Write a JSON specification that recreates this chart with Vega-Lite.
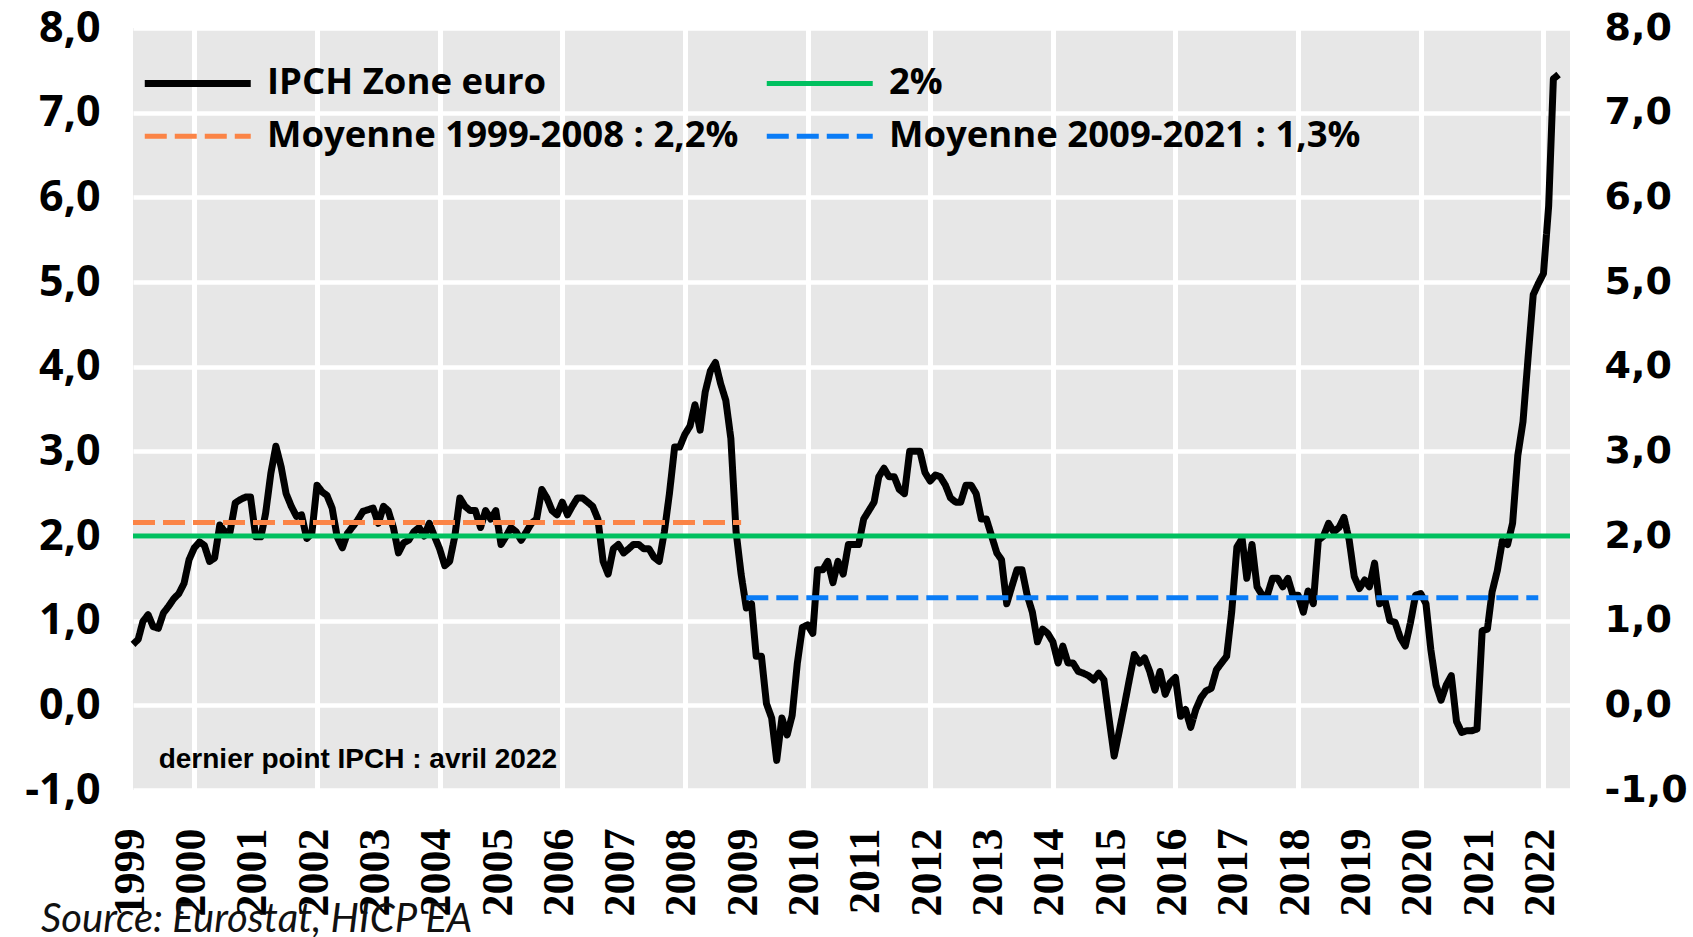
{
  "$schema": "https://vega.github.io/schema/vega-lite/v6.json",
  "width": 1437,
  "height": 762,
  "autosize": {"type": "none"},
  "padding": {"left": 133, "top": 28, "right": 123, "bottom": 147},
  "background": "white",
  "title": {
    "text": "Source: Eurostat, HICP EA",
    "orient": "bottom",
    "anchor": "start",
    "frame": "group",
    "font": "Lato",
    "fontStyle": "italic",
    "fontWeight": "normal",
    "fontSize": 40,
    "color": "#111111",
    "dx": -92,
    "offset": -16
  },
  "config": {
    "view": {"fill": "#e7e7e7", "stroke": null},
    "axis": {"domain": false, "ticks": false, "gridColor": "#ffffff", "labelColor": "#000000", "title": null}
  },
  "datasets": {
    "ipch": [
      {"d":"1999/01/01","v":0.72,"s":"IPCH Zone euro"},{"d":"1999/02/01","v":0.78,"s":"IPCH Zone euro"},{"d":"1999/03/01","v":0.99,"s":"IPCH Zone euro"},{"d":"1999/04/01","v":1.07,"s":"IPCH Zone euro"},{"d":"1999/05/01","v":0.93,"s":"IPCH Zone euro"},{"d":"1999/06/01","v":0.91,"s":"IPCH Zone euro"},{"d":"1999/07/01","v":1.09,"s":"IPCH Zone euro"},{"d":"1999/08/01","v":1.17,"s":"IPCH Zone euro"},{"d":"1999/09/01","v":1.26,"s":"IPCH Zone euro"},{"d":"1999/10/01","v":1.32,"s":"IPCH Zone euro"},{"d":"1999/11/01","v":1.44,"s":"IPCH Zone euro"},{"d":"1999/12/01","v":1.72,"s":"IPCH Zone euro"},
      {"d":"2000/01/01","v":1.86,"s":"IPCH Zone euro"},{"d":"2000/02/01","v":1.93,"s":"IPCH Zone euro"},{"d":"2000/03/01","v":1.89,"s":"IPCH Zone euro"},{"d":"2000/04/01","v":1.70,"s":"IPCH Zone euro"},{"d":"2000/05/01","v":1.74,"s":"IPCH Zone euro"},{"d":"2000/06/01","v":2.13,"s":"IPCH Zone euro"},{"d":"2000/07/01","v":2.05,"s":"IPCH Zone euro"},{"d":"2000/08/01","v":2.05,"s":"IPCH Zone euro"},{"d":"2000/09/01","v":2.39,"s":"IPCH Zone euro"},{"d":"2000/10/01","v":2.43,"s":"IPCH Zone euro"},{"d":"2000/11/01","v":2.46,"s":"IPCH Zone euro"},{"d":"2000/12/01","v":2.46,"s":"IPCH Zone euro"},
      {"d":"2001/01/01","v":1.99,"s":"IPCH Zone euro"},{"d":"2001/02/01","v":1.99,"s":"IPCH Zone euro"},{"d":"2001/03/01","v":2.27,"s":"IPCH Zone euro"},{"d":"2001/04/01","v":2.74,"s":"IPCH Zone euro"},{"d":"2001/05/01","v":3.06,"s":"IPCH Zone euro"},{"d":"2001/06/01","v":2.82,"s":"IPCH Zone euro"},{"d":"2001/07/01","v":2.50,"s":"IPCH Zone euro"},{"d":"2001/08/01","v":2.35,"s":"IPCH Zone euro"},{"d":"2001/09/01","v":2.23,"s":"IPCH Zone euro"},{"d":"2001/10/01","v":2.25,"s":"IPCH Zone euro"},{"d":"2001/11/01","v":1.97,"s":"IPCH Zone euro"},{"d":"2001/12/01","v":2.03,"s":"IPCH Zone euro"},
      {"d":"2002/01/01","v":2.60,"s":"IPCH Zone euro"},{"d":"2002/02/01","v":2.52,"s":"IPCH Zone euro"},{"d":"2002/03/01","v":2.48,"s":"IPCH Zone euro"},{"d":"2002/04/01","v":2.33,"s":"IPCH Zone euro"},{"d":"2002/05/01","v":1.99,"s":"IPCH Zone euro"},{"d":"2002/06/01","v":1.86,"s":"IPCH Zone euro"},{"d":"2002/07/01","v":2.03,"s":"IPCH Zone euro"},{"d":"2002/08/01","v":2.11,"s":"IPCH Zone euro"},{"d":"2002/09/01","v":2.19,"s":"IPCH Zone euro"},{"d":"2002/10/01","v":2.29,"s":"IPCH Zone euro"},{"d":"2002/11/01","v":2.31,"s":"IPCH Zone euro"},{"d":"2002/12/01","v":2.33,"s":"IPCH Zone euro"},
      {"d":"2003/01/01","v":2.15,"s":"IPCH Zone euro"},{"d":"2003/02/01","v":2.35,"s":"IPCH Zone euro"},{"d":"2003/03/01","v":2.30,"s":"IPCH Zone euro"},{"d":"2003/04/01","v":2.10,"s":"IPCH Zone euro"},{"d":"2003/05/01","v":1.80,"s":"IPCH Zone euro"},{"d":"2003/06/01","v":1.92,"s":"IPCH Zone euro"},{"d":"2003/07/01","v":1.95,"s":"IPCH Zone euro"},{"d":"2003/08/01","v":2.05,"s":"IPCH Zone euro"},{"d":"2003/09/01","v":2.10,"s":"IPCH Zone euro"},{"d":"2003/10/01","v":2.00,"s":"IPCH Zone euro"},{"d":"2003/11/01","v":2.15,"s":"IPCH Zone euro"},{"d":"2003/12/01","v":2.00,"s":"IPCH Zone euro"},
      {"d":"2004/01/01","v":1.85,"s":"IPCH Zone euro"},{"d":"2004/02/01","v":1.65,"s":"IPCH Zone euro"},{"d":"2004/03/01","v":1.70,"s":"IPCH Zone euro"},{"d":"2004/04/01","v":2.00,"s":"IPCH Zone euro"},{"d":"2004/05/01","v":2.45,"s":"IPCH Zone euro"},{"d":"2004/06/01","v":2.35,"s":"IPCH Zone euro"},{"d":"2004/07/01","v":2.30,"s":"IPCH Zone euro"},{"d":"2004/08/01","v":2.30,"s":"IPCH Zone euro"},{"d":"2004/09/01","v":2.10,"s":"IPCH Zone euro"},{"d":"2004/10/01","v":2.30,"s":"IPCH Zone euro"},{"d":"2004/11/01","v":2.20,"s":"IPCH Zone euro"},{"d":"2004/12/01","v":2.30,"s":"IPCH Zone euro"},
      {"d":"2005/01/01","v":1.90,"s":"IPCH Zone euro"},{"d":"2005/02/01","v":2.00,"s":"IPCH Zone euro"},{"d":"2005/03/01","v":2.10,"s":"IPCH Zone euro"},{"d":"2005/04/01","v":2.05,"s":"IPCH Zone euro"},{"d":"2005/05/01","v":1.95,"s":"IPCH Zone euro"},{"d":"2005/06/01","v":2.05,"s":"IPCH Zone euro"},{"d":"2005/07/01","v":2.15,"s":"IPCH Zone euro"},{"d":"2005/08/01","v":2.20,"s":"IPCH Zone euro"},{"d":"2005/09/01","v":2.55,"s":"IPCH Zone euro"},{"d":"2005/10/01","v":2.45,"s":"IPCH Zone euro"},{"d":"2005/11/01","v":2.30,"s":"IPCH Zone euro"},{"d":"2005/12/01","v":2.25,"s":"IPCH Zone euro"},
      {"d":"2006/01/01","v":2.40,"s":"IPCH Zone euro"},{"d":"2006/02/01","v":2.25,"s":"IPCH Zone euro"},{"d":"2006/03/01","v":2.35,"s":"IPCH Zone euro"},{"d":"2006/04/01","v":2.45,"s":"IPCH Zone euro"},{"d":"2006/05/01","v":2.45,"s":"IPCH Zone euro"},{"d":"2006/06/01","v":2.40,"s":"IPCH Zone euro"},{"d":"2006/07/01","v":2.35,"s":"IPCH Zone euro"},{"d":"2006/08/01","v":2.20,"s":"IPCH Zone euro"},{"d":"2006/09/01","v":1.70,"s":"IPCH Zone euro"},{"d":"2006/10/01","v":1.55,"s":"IPCH Zone euro"},{"d":"2006/11/01","v":1.85,"s":"IPCH Zone euro"},{"d":"2006/12/01","v":1.90,"s":"IPCH Zone euro"},
      {"d":"2007/01/01","v":1.80,"s":"IPCH Zone euro"},{"d":"2007/02/01","v":1.85,"s":"IPCH Zone euro"},{"d":"2007/03/01","v":1.90,"s":"IPCH Zone euro"},{"d":"2007/04/01","v":1.90,"s":"IPCH Zone euro"},{"d":"2007/05/01","v":1.85,"s":"IPCH Zone euro"},{"d":"2007/06/01","v":1.85,"s":"IPCH Zone euro"},{"d":"2007/07/01","v":1.75,"s":"IPCH Zone euro"},{"d":"2007/08/01","v":1.70,"s":"IPCH Zone euro"},{"d":"2007/09/01","v":2.05,"s":"IPCH Zone euro"},{"d":"2007/10/01","v":2.50,"s":"IPCH Zone euro"},{"d":"2007/11/01","v":3.05,"s":"IPCH Zone euro"},{"d":"2007/12/01","v":3.05,"s":"IPCH Zone euro"},
      {"d":"2008/01/01","v":3.20,"s":"IPCH Zone euro"},{"d":"2008/02/01","v":3.30,"s":"IPCH Zone euro"},{"d":"2008/03/01","v":3.55,"s":"IPCH Zone euro"},{"d":"2008/04/01","v":3.25,"s":"IPCH Zone euro"},{"d":"2008/05/01","v":3.70,"s":"IPCH Zone euro"},{"d":"2008/06/01","v":3.95,"s":"IPCH Zone euro"},{"d":"2008/07/01","v":4.05,"s":"IPCH Zone euro"},{"d":"2008/08/01","v":3.80,"s":"IPCH Zone euro"},{"d":"2008/09/01","v":3.60,"s":"IPCH Zone euro"},{"d":"2008/10/01","v":3.15,"s":"IPCH Zone euro"},{"d":"2008/11/01","v":2.05,"s":"IPCH Zone euro"},{"d":"2008/12/01","v":1.55,"s":"IPCH Zone euro"},
      {"d":"2009/01/01","v":1.15,"s":"IPCH Zone euro"},{"d":"2009/02/01","v":1.20,"s":"IPCH Zone euro"},{"d":"2009/03/01","v":0.58,"s":"IPCH Zone euro"},{"d":"2009/04/01","v":0.58,"s":"IPCH Zone euro"},{"d":"2009/05/01","v":0.02,"s":"IPCH Zone euro"},{"d":"2009/06/01","v":-0.15,"s":"IPCH Zone euro"},{"d":"2009/07/01","v":-0.65,"s":"IPCH Zone euro"},{"d":"2009/08/01","v":-0.15,"s":"IPCH Zone euro"},{"d":"2009/09/01","v":-0.35,"s":"IPCH Zone euro"},{"d":"2009/10/01","v":-0.12,"s":"IPCH Zone euro"},{"d":"2009/11/01","v":0.50,"s":"IPCH Zone euro"},{"d":"2009/12/01","v":0.92,"s":"IPCH Zone euro"},
      {"d":"2010/01/01","v":0.95,"s":"IPCH Zone euro"},{"d":"2010/02/01","v":0.85,"s":"IPCH Zone euro"},{"d":"2010/03/01","v":1.60,"s":"IPCH Zone euro"},{"d":"2010/04/01","v":1.60,"s":"IPCH Zone euro"},{"d":"2010/05/01","v":1.70,"s":"IPCH Zone euro"},{"d":"2010/06/01","v":1.45,"s":"IPCH Zone euro"},{"d":"2010/07/01","v":1.70,"s":"IPCH Zone euro"},{"d":"2010/08/01","v":1.55,"s":"IPCH Zone euro"},{"d":"2010/09/01","v":1.90,"s":"IPCH Zone euro"},{"d":"2010/10/01","v":1.90,"s":"IPCH Zone euro"},{"d":"2010/11/01","v":1.90,"s":"IPCH Zone euro"},{"d":"2010/12/01","v":2.20,"s":"IPCH Zone euro"},
      {"d":"2011/01/01","v":2.30,"s":"IPCH Zone euro"},{"d":"2011/02/01","v":2.40,"s":"IPCH Zone euro"},{"d":"2011/03/01","v":2.70,"s":"IPCH Zone euro"},{"d":"2011/04/01","v":2.80,"s":"IPCH Zone euro"},{"d":"2011/05/01","v":2.70,"s":"IPCH Zone euro"},{"d":"2011/06/01","v":2.70,"s":"IPCH Zone euro"},{"d":"2011/07/01","v":2.55,"s":"IPCH Zone euro"},{"d":"2011/08/01","v":2.50,"s":"IPCH Zone euro"},{"d":"2011/09/01","v":3.00,"s":"IPCH Zone euro"},{"d":"2011/10/01","v":3.00,"s":"IPCH Zone euro"},{"d":"2011/11/01","v":3.00,"s":"IPCH Zone euro"},{"d":"2011/12/01","v":2.75,"s":"IPCH Zone euro"},
      {"d":"2012/01/01","v":2.65,"s":"IPCH Zone euro"},{"d":"2012/02/01","v":2.72,"s":"IPCH Zone euro"},{"d":"2012/03/01","v":2.70,"s":"IPCH Zone euro"},{"d":"2012/04/01","v":2.60,"s":"IPCH Zone euro"},{"d":"2012/05/01","v":2.45,"s":"IPCH Zone euro"},{"d":"2012/06/01","v":2.40,"s":"IPCH Zone euro"},{"d":"2012/07/01","v":2.40,"s":"IPCH Zone euro"},{"d":"2012/08/01","v":2.60,"s":"IPCH Zone euro"},{"d":"2012/09/01","v":2.60,"s":"IPCH Zone euro"},{"d":"2012/10/01","v":2.50,"s":"IPCH Zone euro"},{"d":"2012/11/01","v":2.20,"s":"IPCH Zone euro"},{"d":"2012/12/01","v":2.20,"s":"IPCH Zone euro"},
      {"d":"2013/01/01","v":2.00,"s":"IPCH Zone euro"},{"d":"2013/02/01","v":1.80,"s":"IPCH Zone euro"},{"d":"2013/03/01","v":1.72,"s":"IPCH Zone euro"},{"d":"2013/04/01","v":1.20,"s":"IPCH Zone euro"},{"d":"2013/05/01","v":1.40,"s":"IPCH Zone euro"},{"d":"2013/06/01","v":1.60,"s":"IPCH Zone euro"},{"d":"2013/07/01","v":1.60,"s":"IPCH Zone euro"},{"d":"2013/08/01","v":1.30,"s":"IPCH Zone euro"},{"d":"2013/09/01","v":1.10,"s":"IPCH Zone euro"},{"d":"2013/10/01","v":0.75,"s":"IPCH Zone euro"},{"d":"2013/11/01","v":0.90,"s":"IPCH Zone euro"},{"d":"2013/12/01","v":0.85,"s":"IPCH Zone euro"},
      {"d":"2014/01/01","v":0.75,"s":"IPCH Zone euro"},{"d":"2014/02/01","v":0.50,"s":"IPCH Zone euro"},{"d":"2014/03/01","v":0.70,"s":"IPCH Zone euro"},{"d":"2014/04/01","v":0.50,"s":"IPCH Zone euro"},{"d":"2014/05/01","v":0.50,"s":"IPCH Zone euro"},{"d":"2014/06/01","v":0.40,"s":"IPCH Zone euro"},{"d":"2014/07/01","v":0.38,"s":"IPCH Zone euro"},{"d":"2014/08/01","v":0.35,"s":"IPCH Zone euro"},{"d":"2014/09/01","v":0.30,"s":"IPCH Zone euro"},{"d":"2014/10/01","v":0.38,"s":"IPCH Zone euro"},{"d":"2014/11/01","v":0.30,"s":"IPCH Zone euro"},{"d":"2014/12/01","v":-0.15,"s":"IPCH Zone euro"},
      {"d":"2015/01/01","v":-0.60,"s":"IPCH Zone euro"},{"d":"2015/02/01","v":-0.30,"s":"IPCH Zone euro"},{"d":"2015/03/01","v":-0.02,"s":"IPCH Zone euro"},{"d":"2015/04/01","v":0.30,"s":"IPCH Zone euro"},{"d":"2015/05/01","v":0.60,"s":"IPCH Zone euro"},{"d":"2015/06/01","v":0.50,"s":"IPCH Zone euro"},{"d":"2015/07/01","v":0.56,"s":"IPCH Zone euro"},{"d":"2015/08/01","v":0.40,"s":"IPCH Zone euro"},{"d":"2015/09/01","v":0.18,"s":"IPCH Zone euro"},{"d":"2015/10/01","v":0.40,"s":"IPCH Zone euro"},{"d":"2015/11/01","v":0.13,"s":"IPCH Zone euro"},{"d":"2015/12/01","v":0.27,"s":"IPCH Zone euro"},
      {"d":"2016/01/01","v":0.33,"s":"IPCH Zone euro"},{"d":"2016/02/01","v":-0.13,"s":"IPCH Zone euro"},{"d":"2016/03/01","v":-0.05,"s":"IPCH Zone euro"},{"d":"2016/04/01","v":-0.26,"s":"IPCH Zone euro"},{"d":"2016/05/01","v":-0.05,"s":"IPCH Zone euro"},{"d":"2016/06/01","v":0.09,"s":"IPCH Zone euro"},{"d":"2016/07/01","v":0.17,"s":"IPCH Zone euro"},{"d":"2016/08/01","v":0.20,"s":"IPCH Zone euro"},{"d":"2016/09/01","v":0.42,"s":"IPCH Zone euro"},{"d":"2016/10/01","v":0.50,"s":"IPCH Zone euro"},{"d":"2016/11/01","v":0.58,"s":"IPCH Zone euro"},{"d":"2016/12/01","v":1.10,"s":"IPCH Zone euro"},
      {"d":"2017/01/01","v":1.87,"s":"IPCH Zone euro"},{"d":"2017/02/01","v":1.97,"s":"IPCH Zone euro"},{"d":"2017/03/01","v":1.50,"s":"IPCH Zone euro"},{"d":"2017/04/01","v":1.90,"s":"IPCH Zone euro"},{"d":"2017/05/01","v":1.40,"s":"IPCH Zone euro"},{"d":"2017/06/01","v":1.30,"s":"IPCH Zone euro"},{"d":"2017/07/01","v":1.30,"s":"IPCH Zone euro"},{"d":"2017/08/01","v":1.50,"s":"IPCH Zone euro"},{"d":"2017/09/01","v":1.50,"s":"IPCH Zone euro"},{"d":"2017/10/01","v":1.40,"s":"IPCH Zone euro"},{"d":"2017/11/01","v":1.50,"s":"IPCH Zone euro"},{"d":"2017/12/01","v":1.30,"s":"IPCH Zone euro"},
      {"d":"2018/01/01","v":1.30,"s":"IPCH Zone euro"},{"d":"2018/02/01","v":1.10,"s":"IPCH Zone euro"},{"d":"2018/03/01","v":1.35,"s":"IPCH Zone euro"},{"d":"2018/04/01","v":1.20,"s":"IPCH Zone euro"},{"d":"2018/05/01","v":1.95,"s":"IPCH Zone euro"},{"d":"2018/06/01","v":2.00,"s":"IPCH Zone euro"},{"d":"2018/07/01","v":2.15,"s":"IPCH Zone euro"},{"d":"2018/08/01","v":2.05,"s":"IPCH Zone euro"},{"d":"2018/09/01","v":2.10,"s":"IPCH Zone euro"},{"d":"2018/10/01","v":2.22,"s":"IPCH Zone euro"},{"d":"2018/11/01","v":1.95,"s":"IPCH Zone euro"},{"d":"2018/12/01","v":1.52,"s":"IPCH Zone euro"},
      {"d":"2019/01/01","v":1.38,"s":"IPCH Zone euro"},{"d":"2019/02/01","v":1.48,"s":"IPCH Zone euro"},{"d":"2019/03/01","v":1.40,"s":"IPCH Zone euro"},{"d":"2019/04/01","v":1.68,"s":"IPCH Zone euro"},{"d":"2019/05/01","v":1.20,"s":"IPCH Zone euro"},{"d":"2019/06/01","v":1.25,"s":"IPCH Zone euro"},{"d":"2019/07/01","v":1.00,"s":"IPCH Zone euro"},{"d":"2019/08/01","v":0.98,"s":"IPCH Zone euro"},{"d":"2019/09/01","v":0.80,"s":"IPCH Zone euro"},{"d":"2019/10/01","v":0.70,"s":"IPCH Zone euro"},{"d":"2019/11/01","v":0.98,"s":"IPCH Zone euro"},{"d":"2019/12/01","v":1.30,"s":"IPCH Zone euro"},
      {"d":"2020/01/01","v":1.32,"s":"IPCH Zone euro"},{"d":"2020/02/01","v":1.20,"s":"IPCH Zone euro"},{"d":"2020/03/01","v":0.66,"s":"IPCH Zone euro"},{"d":"2020/04/01","v":0.24,"s":"IPCH Zone euro"},{"d":"2020/05/01","v":0.06,"s":"IPCH Zone euro"},{"d":"2020/06/01","v":0.24,"s":"IPCH Zone euro"},{"d":"2020/07/01","v":0.35,"s":"IPCH Zone euro"},{"d":"2020/08/01","v":-0.19,"s":"IPCH Zone euro"},{"d":"2020/09/01","v":-0.32,"s":"IPCH Zone euro"},{"d":"2020/10/01","v":-0.30,"s":"IPCH Zone euro"},{"d":"2020/11/01","v":-0.30,"s":"IPCH Zone euro"},{"d":"2020/12/01","v":-0.28,"s":"IPCH Zone euro"},
      {"d":"2021/01/01","v":0.88,"s":"IPCH Zone euro"},{"d":"2021/02/01","v":0.90,"s":"IPCH Zone euro"},{"d":"2021/03/01","v":1.34,"s":"IPCH Zone euro"},{"d":"2021/04/01","v":1.59,"s":"IPCH Zone euro"},{"d":"2021/05/01","v":1.94,"s":"IPCH Zone euro"},{"d":"2021/06/01","v":1.90,"s":"IPCH Zone euro"},{"d":"2021/07/01","v":2.15,"s":"IPCH Zone euro"},{"d":"2021/08/01","v":2.95,"s":"IPCH Zone euro"},{"d":"2021/09/01","v":3.35,"s":"IPCH Zone euro"},{"d":"2021/10/01","v":4.10,"s":"IPCH Zone euro"},{"d":"2021/11/01","v":4.85,"s":"IPCH Zone euro"},{"d":"2021/12/01","v":4.98,"s":"IPCH Zone euro"},
      {"d":"2022/01/01","v":5.10,"s":"IPCH Zone euro"},{"d":"2022/02/01","v":5.90,"s":"IPCH Zone euro"},{"d":"2022/03/01","v":7.40,"s":"IPCH Zone euro"},{"d":"2022/04/01","v":7.45,"s":"IPCH Zone euro"}
    ],
    "refs": [
      {"d":"1999/01/01","v":2.0,"s":"2%"},
      {"d":"2022/06/08","v":2.0,"s":"2%"},
      {"d":"1999/01/01","v":2.16,"s":"Moyenne 1999-2008 : 2,2%"},
      {"d":"2008/12/01","v":2.16,"s":"Moyenne 1999-2008 : 2,2%"},
      {"d":"2009/01/01","v":1.27,"s":"Moyenne 2009-2021 : 1,3%"},
      {"d":"2021/12/01","v":1.27,"s":"Moyenne 2009-2021 : 1,3%"}
    ],
    "note": [
      {"d":"1999/06/03","v":-0.65,"t":"dernier point IPCH : avril 2022"}
    ]
  },
  "layer": [
    {
      "data": {"name": "ipch"},
      "mark": {"type": "line", "strokeJoin": "round", "strokeCap": "butt", "strokeWidth": 7},
      "encoding": {
        "x": {
          "field": "d", "type": "temporal",
          "scale": {"domain": [{"year": 1999, "month": 1, "date": 1}, {"year": 2022, "month": 6, "date": 8}]},
          "axis": {
            "orient": "bottom", "format": "%Y",
            "tickCount": {"interval": "year", "step": 1},
            "labelAngle": -90, "labelPadding": 38, "labelOffset": -3,
            "labelFont": "Liberation Sans Narrow", "labelFontSize": 44, "labelFontWeight": "bold",
            "labelFlush": false, "labelOverlap": false, "labelBound": false,
            "grid": true, "gridWidth": 5,
            "gridOpacity": {"condition": {"test": "year(datum.value) % 2 === 0", "value": 1}, "value": 0}
          }
        },
        "y": {
          "field": "v", "type": "quantitative",
          "scale": {"domain": [-1, 8], "nice": false, "zero": false},
          "axis": {
            "orient": "left", "values": [-1, 0, 1, 2, 3, 4, 5, 6, 7, 8],
            "labelExpr": "replace(replace(format(datum.value, '.1f'), '.', ','), '\u2212', '-')",
            "labelFont": "Open Sans", "labelFontSize": 43, "labelFontWeight": "bold",
            "labelPadding": 33, "grid": true, "gridWidth": 4.5
          }
        },
        "color": {
          "field": "s", "type": "nominal",
          "scale": {
            "domain": ["IPCH Zone euro", "Moyenne 1999-2008 : 2,2%", "2%", "Moyenne 2009-2021 : 1,3%"],
            "range": ["#000000", "#fb8446", "#00c05f", "#0a7cf6"]
          },
          "legend": {
            "orient": "none", "legendX": 15, "legendY": 37,
            "columns": 2, "columnPadding": 17, "rowPadding": 16,
            "symbolType": "M-3,0H3", "symbolSize": 1248, "symbolOffset": 31.5,
            "labelOffset": 51, "labelFont": "Open Sans", "labelFontSize": 36.5,
            "labelFontWeight": "bold", "labelColor": "#000000", "labelLimit": 2000,
            "title": null, "padding": 0,
            "encode": {
              "symbols": {
                "update": {
                  "strokeWidth": {"signal": "datum.value === 'IPCH Zone euro' ? 7 : 5"},
                  "opacity": {"value": 1}
                }
              }
            }
          }
        },
        "strokeDash": {
          "field": "s", "type": "nominal",
          "scale": {
            "domain": ["IPCH Zone euro", "Moyenne 1999-2008 : 2,2%", "2%", "Moyenne 2009-2021 : 1,3%"],
            "range": [[1, 0], [22, 8], [1, 0], [22, 8]]
          }
        }
      }
    },
    {
      "data": {"name": "refs"},
      "mark": {"type": "line", "strokeCap": "butt", "strokeWidth": 5},
      "encoding": {
        "x": {"field": "d", "type": "temporal"},
        "y": {"field": "v", "type": "quantitative", "axis": null},
        "color": {"field": "s", "type": "nominal"},
        "strokeDash": {"field": "s", "type": "nominal"}
      }
    },
    {
      "data": {"name": "refs"},
      "mark": {"type": "point", "opacity": 0},
      "encoding": {
        "x": {"field": "d", "type": "temporal"},
        "y": {
          "field": "v", "type": "quantitative",
          "axis": {
            "orient": "right", "values": [-1, 0, 1, 2, 3, 4, 5, 6, 7, 8],
            "labelExpr": "replace(replace(format(datum.value, '.1f'), '.', ','), '\u2212', '-')",
            "labelFont": "DejaVu Sans", "labelFontSize": 38, "labelFontWeight": "bold",
            "labelPadding": 34, "grid": false
          }
        }
      }
    },
    {
      "data": {"name": "note"},
      "mark": {"type": "text", "align": "left", "baseline": "middle", "font": "Liberation Sans", "fontSize": 28, "fontWeight": "bold", "color": "#000000"},
      "encoding": {
        "x": {"field": "d", "type": "temporal"},
        "y": {"field": "v", "type": "quantitative", "axis": null},
        "text": {"field": "t"}
      }
    }
  ],
  "resolve": {"axis": {"y": "independent"}}
}
